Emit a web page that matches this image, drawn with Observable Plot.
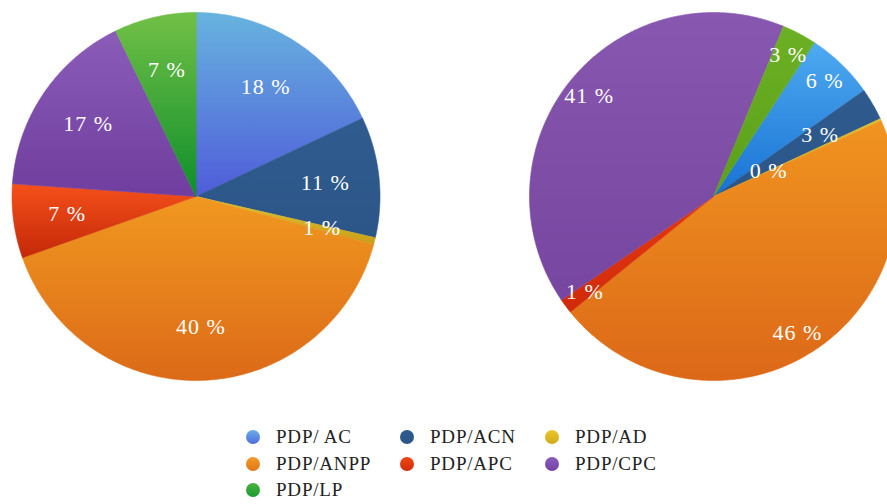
<!DOCTYPE html>
<html><head><meta charset="utf-8">
<script src="https://cdn.jsdelivr.net/npm/d3@7"></script>
<script src="https://cdn.jsdelivr.net/npm/@observablehq/plot@0.6"></script>
<style>
body{margin:0;background:#fff;font-family:"Liberation Serif",serif;}
#chart svg text{letter-spacing:1px;}
#legend{display:grid;grid-template-columns:154px 145px 150px;grid-auto-rows:26.5px;margin-left:246px;margin-top:14px;font-size:19px;letter-spacing:0.8px;color:#222;}
.item{display:flex;align-items:center;white-space:nowrap;}
.sw{width:14px;height:14px;border-radius:50%;margin-right:16px;flex:none;}
</style></head><body>
<svg width="0" height="0" style="position:absolute"><defs id="defs"></defs></svg>
<div id="chart"></div>
<div id="legend"></div>
<script>
const categories = ["PDP/ AC","PDP/ACN","PDP/AD","PDP/ANPP","PDP/APC","PDP/CPC","PDP/LP"];
const leftValues = [18.0, 10.6, 0.6, 40.4, 6.5, 16.7, 7.2];
const rightValues = [6.0, 2.8, 0.2, 45.8, 1.3, 40.6, 3.0];

// styles (gradient top -> bottom)
const leftColors = [["#67b3df","#4f5cd9"],["#2f5b8e","#2c5688"],["#e0c030","#c8a018"],["#f09820","#dc6a18"],["#f4501a","#c42808"],["#8a5cb8","#703e9e"],["#72c046","#0e8e2c"]];
const rightColors = [["#4eaaf0","#1872d4"],["#2e5a8e","#2c5688"],["#e0c030","#c8a018"],["#f09420","#dc6818"],["#e43a12","#d02a0a"],["#8858b0","#7646a0"],["#6cb024","#5aa018"]];
const legendColors = [["#6aaee8","#4f6cdc"],["#2f5b8e","#2c5688"],["#ecc82c","#d0a818"],["#f39a28","#e07818"],["#f04818","#d02c0a"],["#8c5cbc","#7442a4"],["#4cb040","#1a9a30"]];

const defs = document.getElementById("defs");
function addGrad(id, c) {
  const g = document.createElementNS("http://www.w3.org/2000/svg","linearGradient");
  g.setAttribute("id", id); g.setAttribute("x1","0"); g.setAttribute("y1","0"); g.setAttribute("x2","0"); g.setAttribute("y2","1");
  [[0,c[0]],[1,c[1]]].forEach(([o,col]) => {
    const s = document.createElementNS("http://www.w3.org/2000/svg","stop");
    s.setAttribute("offset", o); s.setAttribute("stop-color", col); g.appendChild(s);
  });
  defs.appendChild(g);
}
leftColors.forEach((c,i) => addGrad("gL"+i, c));
rightColors.forEach((c,i) => addGrad("gR"+i, c));

const unit = 184, W = 887, H = 410;
const cxL = 0, cxR = (713 - 195.5) / unit;

function build(values, tag, cx, start, labelR, overrides) {
  const arcs = d3.pie().sort(null).startAngle(start).endAngle(start + 2 * Math.PI)(values);
  const poly = [], labels = [];
  arcs.forEach((a, i) => {
    const key = tag + i;
    const fill = `url(#g${tag}${i})`;
    poly.push({key, fill, x: cx, y: 0});
    const n = Math.max(2, Math.ceil((a.endAngle - a.startAngle) / 0.008));
    for (let k = 0; k <= n; k++) {
      const t = a.startAngle + (a.endAngle - a.startAngle) * k / n;
      poly.push({key, fill, x: cx + Math.sin(t), y: Math.cos(t)});
    }
    const m = (a.startAngle + a.endAngle) / 2;
    const r = overrides[i] ?? labelR;
    labels.push({x: cx + r * Math.sin(m), y: r * Math.cos(m), text: Math.round(values[i]) + " %"});
  });
  return {poly, labels};
}

const L = build(leftValues, "L", cxL, 0, 0.707, {});
const R = build(rightValues, "R", cxR, 33.2 * Math.PI / 180, 0.87, {1: 0.67, 2: 0.33});

const chart = Plot.plot({
  width: W, height: H, margin: 0,
  x: {domain: [-195.5 / unit, (W - 195.5) / unit], axis: null},
  y: {domain: [-(H - 196) / unit, 196 / unit], axis: null},
  color: {type: "identity"},
  style: {background: "transparent", fontFamily: "Liberation Serif"},
  marks: [
    Plot.line(L.poly.concat(R.poly), {x: "x", y: "y", z: "key", fill: "fill", stroke: "fill", strokeWidth: 0.6, curve: "linear-closed"}),
    Plot.text(L.labels.concat(R.labels), {x: "x", y: "y", text: "text", fill: "white", fontSize: 22, fontFamily: "Liberation Serif"})
  ]
});
document.getElementById("chart").appendChild(chart);

const legend = document.getElementById("legend");
categories.forEach((c, i) => {
  const it = document.createElement("div"); it.className = "item";
  const sw = document.createElement("span"); sw.className = "sw";
  sw.style.background = `linear-gradient(${legendColors[i][0]}, ${legendColors[i][1]})`;
  const tx = document.createElement("span"); tx.textContent = c;
  it.appendChild(sw); it.appendChild(tx); legend.appendChild(it);
});
</script>
</body></html>
